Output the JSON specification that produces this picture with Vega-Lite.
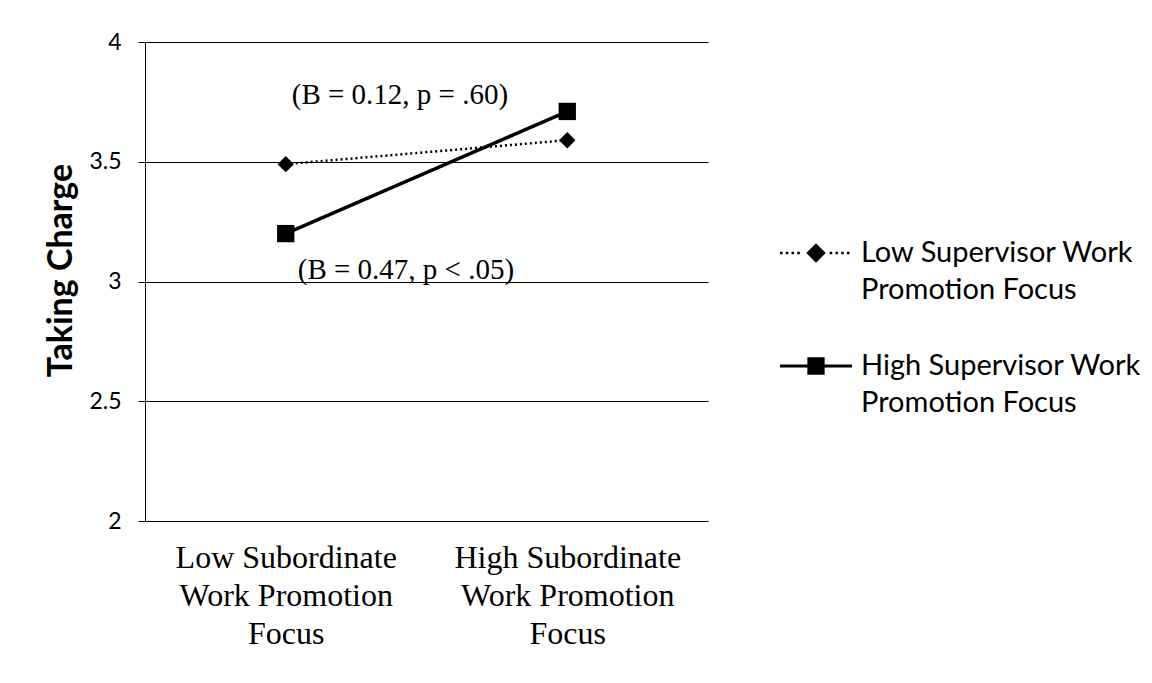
{
  "$schema": "https://vega.github.io/schema/vega-lite/v6.json",
  "width": 563,
  "height": 479,
  "autosize": {"type": "none"},
  "padding": {"left": 145, "top": 42, "right": 444, "bottom": 162},
  "background": "white",
  "config": {
    "view": {"stroke": null},
    "font": "Lato",
    "axis": {"labelColor": "black", "titleColor": "black"},
    "style": {"guide-label": {"lineHeight": 37}}
  },
  "data": {
    "values": [
      {"subordinate": "Low Subordinate Work Promotion Focus", "supervisor": "Low Supervisor Work Promotion Focus", "taking_charge": 3.49},
      {"subordinate": "High Subordinate Work Promotion Focus", "supervisor": "Low Supervisor Work Promotion Focus", "taking_charge": 3.59},
      {"subordinate": "Low Subordinate Work Promotion Focus", "supervisor": "High Supervisor Work Promotion Focus", "taking_charge": 3.2},
      {"subordinate": "High Subordinate Work Promotion Focus", "supervisor": "High Supervisor Work Promotion Focus", "taking_charge": 3.71}
    ]
  },
  "encoding": {
    "x": {
      "field": "subordinate",
      "type": "nominal",
      "sort": ["Low Subordinate Work Promotion Focus", "High Subordinate Work Promotion Focus"],
      "scale": {"type": "point", "padding": 0.5},
      "axis": {
        "title": null,
        "labelAngle": 0,
        "domain": false,
        "ticks": false,
        "grid": false,
        "labelFont": "Liberation Serif",
        "labelFontSize": 32,
        "labelLineHeight": 38,
        "labelPadding": 21,
        "labelLimit": 500,
        "labelExpr": "split(replace(replace(datum.label, ' Work', '|Work'), ' Focus', '|Focus'), '|')"
      }
    },
    "y": {
      "field": "taking_charge",
      "type": "quantitative",
      "scale": {"domain": [2, 4], "nice": false, "zero": false},
      "axis": {
        "title": "Taking Charge",
        "values": [2, 2.5, 3, 3.5, 4],
        "format": "~g",
        "grid": true,
        "gridColor": "black",
        "gridOpacity": 1,
        "gridWidth": 1,
        "domainColor": "black",
        "domainWidth": 1,
        "tickColor": "black",
        "tickSize": 7,
        "labelFontSize": 23,
        "labelPadding": 17,
        "titleFontSize": 34,
        "titleFontWeight": "bold",
        "titlePadding": 10,
        "titleY": 228
      }
    }
  },
  "layer": [
    {
      "mark": {"type": "line", "color": "black"},
      "encoding": {
        "detail": {"field": "supervisor"},
        "strokeDash": {
          "field": "supervisor",
          "type": "nominal",
          "scale": {"domain": ["Low Supervisor Work Promotion Focus", "High Supervisor Work Promotion Focus"], "range": [[2, 3], [1, 0]]},
          "legend": null
        },
        "strokeWidth": {
          "field": "supervisor",
          "type": "nominal",
          "scale": {"domain": ["Low Supervisor Work Promotion Focus", "High Supervisor Work Promotion Focus"], "range": [2.5, 3.5]},
          "legend": null
        }
      }
    },
    {
      "mark": {"type": "point", "filled": true, "color": "black", "opacity": 1},
      "encoding": {
        "shape": {
          "field": "supervisor",
          "type": "nominal",
          "scale": {"domain": ["Low Supervisor Work Promotion Focus", "High Supervisor Work Promotion Focus"], "range": ["diamond", "square"]},
          "legend": null
        },
        "size": {
          "field": "supervisor",
          "type": "nominal",
          "scale": {"domain": ["Low Supervisor Work Promotion Focus", "High Supervisor Work Promotion Focus"], "range": [270, 300]},
          "legend": null
        }
      }
    },
    {
      "data": {"values": [
        {"subordinate": "Low Subordinate Work Promotion Focus", "taking_charge": 3.78, "note": "(B = 0.12, p = .60)"}
      ]},
      "mark": {"type": "text", "align": "left", "baseline": "middle", "font": "Liberation Serif", "fontSize": 29, "color": "black", "dx": 6},
      "encoding": {
        "text": {"field": "note"}
      }
    },
    {
      "data": {"values": [
        {"subordinate": "Low Subordinate Work Promotion Focus", "taking_charge": 3.05, "note": "(B = 0.47, p < .05)"}
      ]},
      "mark": {"type": "text", "align": "left", "baseline": "middle", "font": "Liberation Serif", "fontSize": 29, "color": "black", "dx": 12},
      "encoding": {
        "text": {"field": "note"}
      }
    },
    {
      "data": {"values": []},
      "mark": {"type": "point", "filled": true, "color": "black", "opacity": 1},
      "encoding": {
        "x": null,
        "y": null,
        "shape": {
          "field": "supervisor",
          "type": "nominal",
          "scale": {
            "domain": ["Low Supervisor Work Promotion Focus", "High Supervisor Work Promotion Focus"],
            "range": [
              "M0,-0.27L0.27,0L0,0.27L-0.27,0Z M-1,-0.035h0.07v0.07h-0.07Z M-0.84,-0.035h0.07v0.07h-0.07Z M-0.68,-0.035h0.07v0.07h-0.07Z M-0.52,-0.035h0.07v0.07h-0.07Z M0.38,-0.035h0.07v0.07h-0.07Z M0.54,-0.035h0.07v0.07h-0.07Z M0.7,-0.035h0.07v0.07h-0.07Z M0.86,-0.035h0.07v0.07h-0.07Z",
              "M-0.24,-0.24H0.24V0.24H-0.24Z M-1,-0.045H1V0.045H-1Z"
            ]
          },
          "legend": {
            "title": null,
            "orient": "none",
            "legendX": 635,
            "legendY": 175,
            "padding": 0,
            "symbolSize": 5184,
            "symbolFillColor": "black",
            "symbolStrokeWidth": 0,
            "symbolOpacity": 1,
            "labelFont": "Lato",
            "labelFontSize": 29,
            "labelColor": "black",
            "labelOffset": 9,
            "labelLimit": 400,
            "labelBaseline": "middle",
            "rowPadding": 25,
            "labelExpr": "split(replace(datum.label, ' Promotion', '|Promotion'), '|')",
            "encode": {"labels": {"update": {"dy": {"value": 18}}}}
          }
        }
      }
    }
  ],
  "resolve": {"scale": {"shape": "independent", "size": "independent"}, "legend": {"shape": "independent"}}
}
